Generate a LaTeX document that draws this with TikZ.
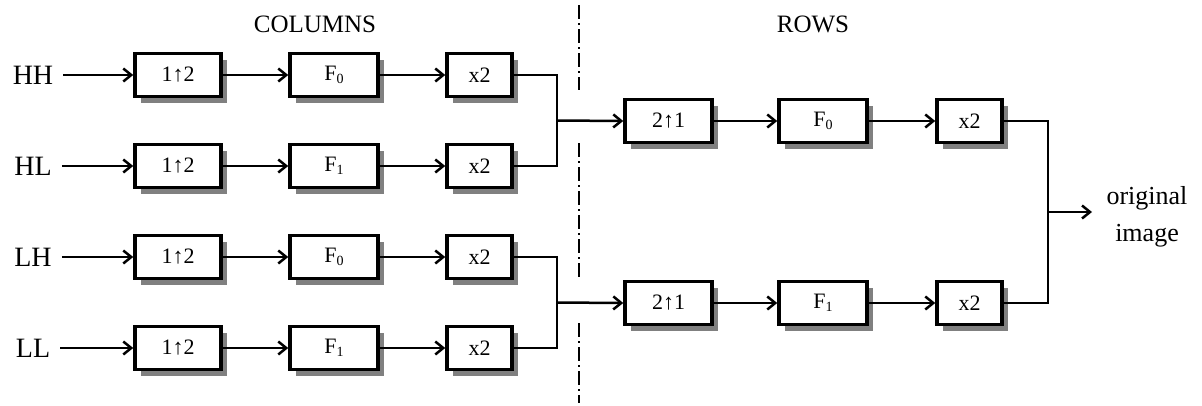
\documentclass[tikz,border=0pt]{standalone}
\usepackage{fontspec}
\setmainfont{Liberation Serif}
\usetikzlibrary{arrows.meta,shadows}
\newcommand{\sbs}[1]{\raisebox{-0.35ex}{\fontsize{14}{14}\selectfont #1}}
\tikzset{
  blk/.style={draw, line width=3.5pt, fill=white, minimum height=43pt, inner sep=0pt,
    font=\fontsize{22}{24}\selectfont,
    drop shadow={shadow xshift=6pt, shadow yshift=-6pt, fill=black!50, opacity=1}},
  lbl/.style={font=\fontsize{28}{30}\selectfont, inner sep=4pt},
  ttl/.style={font=\fontsize{25}{26}\selectfont},
  ln/.style={line width=2.5pt},
  arr/.style={ln, -{Straight Barb[length=8pt,width=13pt,line width=2.5pt]}},
  sep/.style={line width=2.5pt, dash pattern=on 14pt off 4pt on 2pt off 4pt}
}
\begin{document}
\begin{tikzpicture}[x=1pt,y=-1pt]
\useasboundingbox (0,0) rectangle (1202,405);
% titles
\node[ttl] (tc) at (315,24) {COLUMNS};
\node[ttl] (tr) at (813,24) {ROWS};
% input labels
\node[lbl] (hh) at (33,75) {HH};
\node[lbl] (hl) at (33,166) {HL};
\node[lbl] (lh) at (33,257) {LH};
\node[lbl] (ll) at (33,348) {LL};
% column stage
\foreach \n/\y/\f in {1/75/0, 2/166/1, 3/257/0, 4/348/1}{
  \node[blk, minimum width=86pt] (a\n) at (178,\y) {1↑2};
  \node[blk, minimum width=88pt] (b\n) at (334,\y) {F\sbs{\f}};
  \node[blk, minimum width=65pt] (c\n) at (479.5,\y) {x2};
}
% row stage
\foreach \n/\y/\f in {1/121/0, 2/303/1}{
  \node[blk, minimum width=87pt] (r\n) at (668.5,\y) {2↑1};
  \node[blk, minimum width=88pt] (s\n) at (823,\y) {F\sbs{\f}};
  \node[blk, minimum width=65pt] (t\n) at (969.5,\y) {x2};
}
\node[font=\fontsize{26}{37}\selectfont, align=center] (out) at (1147,217) {original\\image};
% arrows
\foreach \s/\t in {hh/a1, hl/a2, lh/a3, ll/a4}{
  \draw[arr, shorten <=6pt] (\s.east) -- (\t.west);
}
\foreach \n in {1,2,3,4}{
  \draw[arr] (a\n.east) -- (b\n.west);
  \draw[arr] (b\n.east) -- (c\n.west);
}
\foreach \n in {1,2}{
  \draw[arr] (r\n.east) -- (s\n.west);
  \draw[arr] (s\n.east) -- (t\n.west);
}
% junctions
\coordinate (jA) at (557,120.5);
\coordinate (jB) at (557,302.5);
\coordinate (jC) at (1048,212);
\coordinate (oe) at (1092,212);
\draw[ln] (c1.east) -| (jA) |- (c2.east);
\draw[ln] (c3.east) -| (jB) |- (c4.east);
\draw[arr] (jA) -- (r1.west);
\draw[arr] (jB) -- (r2.west);
\draw[ln] (t1.east) -| (jC) |- (t2.east);
\draw[arr] (jC) -- (oe);
% separator
\coordinate (d1) at (579,5);
\coordinate (d2) at (579,90);
\coordinate (d3) at (579,143);
\coordinate (d4) at (579,280);
\coordinate (d5) at (579,323);
\coordinate (d6) at (579,403);
\draw[sep] (d1) -- (d2);
\draw[sep] (d3) -- (d4);
\draw[sep] (d5) -- (d6);
\end{tikzpicture}
\end{document}
